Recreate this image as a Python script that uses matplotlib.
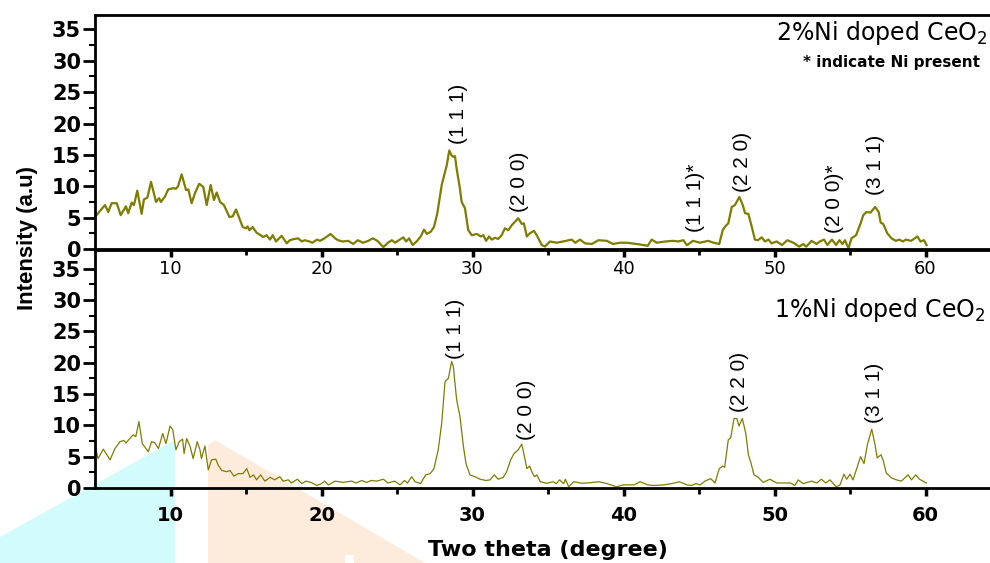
import matplotlib
matplotlib.use("Agg")
import matplotlib.pyplot as plt
from matplotlib.patches import Polygon, Rectangle
from matplotlib.ticker import FixedLocator

plt.rcParams['font.family'] = 'DejaVu Sans'
plt.rcParams['mathtext.fontset'] = 'dejavusans'

# ---- 2% Ni doped CeO2 (top panel) ----
top_theta = [5.1, 5.66, 5.88, 6.1, 6.44, 6.7, 7.05, 7.2, 7.43, 7.58,
             7.8, 8.09, 8.24, 8.47, 8.71, 9.04, 9.24, 9.37, 9.64, 9.85,
             10.19, 10.36, 10.5, 10.74, 11.03, 11.18, 11.4, 11.62, 11.9, 12.17,
             12.4, 12.66, 12.88, 13.06, 13.28, 13.54, 13.9, 14.12, 14.34, 14.56,
             14.78, 15.0, 15.11, 15.22, 15.44, 15.7, 15.97, 16.14, 16.36, 16.59,
             16.77, 16.99, 17.36, 17.7, 17.9, 18.2, 18.45, 18.7, 18.9, 19.2,
             19.4, 19.7, 19.9, 20.2, 20.6, 20.9, 21.1, 21.4, 21.77, 22.1,
             22.4, 22.75, 23.1, 23.4, 23.7, 24.1, 24.4, 24.66,
             24.87, 25.42, 25.6, 25.8, 26.04, 26.3, 26.57, 26.79, 26.97, 27.23,
             27.45, 27.67, 27.96, 28.1, 28.3, 28.46, 28.62, 28.73, 28.84, 28.95,
             29.17, 29.28, 29.5, 29.72, 29.95, 30.28, 30.54, 30.72, 30.9, 31.1,
             31.27, 31.5, 31.7, 31.93, 32.15, 32.37, 32.6, 32.8, 33.03, 33.26,
             33.4, 33.6, 33.8, 34.07, 34.3, 34.58, 34.8, 35.13, 35.57, 36.0,
             36.57, 36.8, 37.12, 37.45, 37.9, 38.34, 38.9, 39.3, 39.78, 40.2,
             40.87, 41.4, 41.6, 41.87, 42.2, 42.77, 43.3, 43.6, 43.97, 44.2,
             44.6, 45.07, 45.6, 45.97, 46.34, 46.57, 46.72, 46.94, 47.17, 47.38,
             47.67, 47.9, 48.05, 48.27, 48.5, 48.7, 48.9, 49.15, 49.37, 49.6,
             49.8, 50.14, 50.5, 50.85, 51.25, 51.64, 51.9, 52.1, 52.46, 52.78,
             53.0, 53.28, 53.5, 53.8, 54.08, 54.3, 54.5, 54.67, 54.9, 55.1,
             55.4, 55.66, 55.88, 56.1, 56.36, 56.66, 56.9, 57.03, 57.2, 57.47,
             57.75, 58.04, 58.26, 58.5, 58.7, 59.05, 59.46, 59.67, 59.9, 60.07]
top_counts = [5.4, 7.0, 5.9, 7.3, 7.3, 5.4, 6.8, 5.7, 7.4, 7.0,
              9.3, 5.6, 7.9, 8.2, 10.7, 7.5, 8.1, 7.5, 8.4, 9.5,
              9.7, 9.6, 10.0, 11.9, 9.4, 9.5, 7.3, 8.9, 10.4, 9.9,
              7.0, 10.2, 7.8, 9.0, 7.5, 7.0, 5.1, 5.2, 6.3, 4.9,
              3.5, 3.3, 3.6, 3.0, 3.5, 2.6, 2.2, 1.9, 2.2, 1.5,
              2.2, 1.2, 2.1, 0.9, 1.4, 1.6, 1.7, 1.2, 1.4, 1.2,
              1.0, 1.5, 1.3, 1.7, 2.4, 1.7, 1.4, 1.2, 1.3, 0.8,
              1.4, 1.0, 1.3, 1.7, 1.3, 0.3, 1.0, 1.4,
              1.0, 1.86, 1.2, 1.7, 0.64, 1.2, 2.0, 3.1, 2.4, 2.75,
              3.5, 5.7, 10.2, 11.5, 13.4, 15.7, 14.9, 14.7, 14.8, 12.8,
              9.6, 7.5, 6.5, 3.0, 2.2, 2.4, 2.0, 2.2, 1.3, 2.0,
              1.5, 1.8, 1.6, 2.2, 3.3, 3.0, 3.8, 4.3, 4.9, 4.0,
              4.1, 2.0, 2.5, 2.9, 2.0, 0.64, 0.4, 1.2, 1.0, 1.2,
              1.5, 1.0, 1.5, 0.9, 0.8, 1.4, 1.3, 0.8, 1.0, 1.0,
              0.8, 0.6, 0.5, 1.5, 1.0, 1.2, 1.3, 1.2, 1.4, 0.6,
              1.3, 1.0, 1.3, 1.0, 0.8, 3.0, 3.55, 4.1, 6.7, 7.0,
              8.3, 7.0, 5.7, 5.6, 3.5, 1.5, 1.4, 1.86, 1.2, 1.5,
              0.9, 1.2, 0.64, 1.4, 1.0, 0.37, 0.8, 0.37, 1.3, 0.8,
              1.2, 1.5, 0.64, 1.5, 0.64, 1.4, 0.8, 1.4, 0.1, 1.7,
              2.2, 3.8, 5.4, 5.9, 5.8, 6.7, 5.9, 4.2, 4.0, 2.5,
              1.7, 1.3, 1.5, 1.2, 1.5, 1.3, 2.0, 1.2, 1.4, 0.64]

# ---- 1% Ni doped CeO2 (bottom panel) ----
bot_theta = [5.07, 5.2, 5.55, 6.0, 6.32, 6.66, 6.9, 7.05, 7.3, 7.54,
             7.7, 7.91, 8.13, 8.53, 8.75, 8.97, 9.2, 9.48, 9.7, 9.97,
             10.15, 10.36, 10.58, 10.8, 10.9, 11.07, 11.3, 11.5, 11.77, 11.95,
             12.05, 12.28, 12.5, 12.72, 13.0, 13.15, 13.39, 13.72, 13.94, 14.2,
             14.5, 14.8, 15.05, 15.27, 15.5, 15.7, 15.97, 16.25, 16.6, 16.9,
             17.24, 17.46, 17.8, 18.0, 18.4, 18.7, 18.97, 19.3, 19.7, 20.0,
             20.2, 20.45, 20.9, 21.44, 22.0, 22.3, 22.66, 22.99, 23.3, 23.65,
             24.1, 24.4, 24.85, 25.2, 25.5, 25.7,
             25.97, 26.2, 26.56, 26.9, 27.2, 27.45, 27.73, 27.96, 28.18, 28.4,
             28.62, 28.73, 28.95, 29.17, 29.4, 29.57, 29.83, 30.17, 30.5, 30.9,
             31.16, 31.44, 31.7, 32.04, 32.26, 32.53, 32.75, 33.03, 33.26, 33.4,
             33.6, 33.78, 33.93, 34.1, 34.26, 34.49, 34.93, 35.33, 35.55, 35.77,
             36.04, 36.15, 36.37, 36.7, 37.26, 37.8, 38.36, 38.9, 39.53, 40.0,
             40.7, 41.1, 41.6, 42.0, 42.67, 43.2, 43.7,
             44.2, 44.5, 44.8, 45.07, 45.4, 45.77, 46.06, 46.34, 46.57, 46.7,
             46.94, 47.1, 47.32, 47.5, 47.65, 47.87, 48.1, 48.27, 48.42, 48.64,
             48.9, 49.25, 49.7, 50.14, 50.7, 51.07, 51.35, 51.57, 51.9, 52.46,
             52.8, 53.1, 53.4, 53.67, 54.08, 54.34, 54.6, 54.78, 55.0, 55.2,
             55.44, 55.7, 55.93, 56.15, 56.44, 56.66, 56.8, 57.05, 57.2, 57.4,
             57.75, 58.08, 58.4, 58.85, 59.07, 59.36, 59.6, 60.07]
bot_counts = [6.07, 4.7, 6.2, 4.5, 6.3, 7.4, 7.6, 7.2, 7.9, 8.5,
              8.2, 10.6, 7.1, 5.8, 7.4, 7.2, 6.3, 8.7, 7.1, 9.9,
              9.3, 6.1, 7.4, 7.8, 5.5, 7.9, 6.6, 4.7, 7.4, 6.1,
              4.7, 6.7, 2.9, 4.5, 4.6, 3.7, 2.8, 2.6, 2.8, 1.9,
              2.3, 2.3, 3.1, 1.7, 2.1, 1.3, 2.1, 1.1, 1.7, 1.3,
              1.8, 1.1, 1.3, 0.8, 1.4, 0.7, 1.1, 0.9, 0.4, 0.7,
              1.1, 0.5, 1.1, 0.9, 1.1, 0.8, 1.2, 0.9, 1.2, 1.1,
              1.4, 0.8, 1.1, 0.5, 1.2, 0.8,
              1.8, 1.0, 0.7, 2.1, 2.3, 3.1, 6.1, 10.3, 17.0, 17.5,
              20.2, 19.4, 14.1, 11.4, 6.6, 3.9, 2.1, 1.8, 1.4, 1.2,
              1.3, 2.1, 1.4, 1.7, 2.6, 4.5, 5.5, 6.1, 7.0, 5.5,
              3.1, 3.5, 2.6, 1.8, 2.1, 1.0, 0.75, 1.0, 0.7, 1.3,
              0.7, 1.4, 0.2, 1.0, 0.75, 0.85, 1.0, 0.7, 0.2, 0.5,
              0.5, 1.0, 0.5, 0.4, 0.5, 0.7, 1.0,
              0.5, 0.4, 0.7, 0.5, 1.1, 1.5, 0.8, 3.1, 3.5, 3.3,
              7.7, 8.0, 11.1, 11.1, 9.9, 11.1, 8.7, 5.3, 4.2, 2.1,
              1.75, 0.9, 1.4, 0.8, 0.8, 0.8, 0.4, 1.3, 0.7, 1.1,
              0.8, 1.4, 0.8, 1.3, 0.2, 0.5, 2.2, 1.4, 2.2, 1.3,
              3.1, 5.0, 3.9, 6.9, 9.4, 6.9, 4.8, 5.3, 4.4, 2.4,
              1.6, 1.3, 1.1, 2.1, 1.3, 2.1, 1.4, 0.8]

# peak labels: (text, theta, intensity at bottom of label)
top_peaks = [("(1 1 1)", 29.1, 16.7), ("(2 0 0)", 33.1, 5.9),
             ("(1 1 1)*", 44.8, 2.7), ("(2 2 0)", 47.85, 9.1),
             ("(2 0 0)*", 54.0, 2.5), ("(3 1 1)", 56.7, 8.6)]
bot_peaks = [("(1 1 1)", 28.9, 20.6), ("(2 0 0)", 33.6, 7.7),
             ("(2 2 0)", 47.65, 12.1), ("(3 1 1)", 56.65, 10.4)]

yticks = [0, 5, 10, 15, 20, 25, 30, 35]
xticks = [10, 20, 30, 40, 50, 60]
line_col = '#7f7d00'

fig = plt.figure(figsize=(9.9, 5.63), dpi=100)

def figpt(x, y):
    return (x / 990.0, 1 - y / 563.0)

# faint watermark shapes behind the plot
fig.patches.append(Polygon([figpt(0, 563), figpt(0, 537), figpt(175, 440), figpt(175, 563)],
                           closed=True, transform=fig.transFigure, facecolor='#d2fbfc',
                           edgecolor='none', zorder=-5))
fig.patches.append(Polygon([figpt(208, 563), figpt(208, 445), figpt(215, 440), figpt(425, 563)],
                           closed=True, transform=fig.transFigure, facecolor='#fdecdb',
                           edgecolor='none', zorder=-5))
fig.patches.append(Rectangle(figpt(345, 563), 9 / 990.0, 8 / 563.0, transform=fig.transFigure,
                             facecolor='white', edgecolor='none', zorder=-4))

ax1 = fig.add_axes([95 / 990, 1 - 249 / 563, (1001 - 95) / 990, 234 / 563])
ax2 = fig.add_axes([95 / 990, 1 - 488 / 563, (1001 - 95) / 990, 238 / 563])

ax1.plot(top_theta, top_counts, color=line_col, lw=1.6)
ax2.plot(bot_theta, bot_counts, color=line_col, lw=0.9)

for ax, ymax in ((ax1, 37.3), (ax2, 38.0)):
    ax.set_facecolor('none')
    ax.set_xlim(5, 65)
    ax.set_ylim(0, ymax)
    for s in ax.spines.values():
        s.set_linewidth(2.0)
    ax.set_yticks(yticks)
    ax.set_yticklabels([str(v) for v in yticks], fontweight='bold', fontsize=15)
    ax.yaxis.set_minor_locator(FixedLocator([2.5, 7.5, 12.5, 17.5, 22.5, 27.5, 32.5]))
    ax.xaxis.set_minor_locator(FixedLocator([15, 25, 35, 45, 55]))
    ax.tick_params(axis='y', which='major', direction='out', length=9, width=2, pad=1)
    ax.tick_params(axis='y', which='minor', direction='out', length=4.5, width=1.5)
    ax.tick_params(axis='x', which='major', direction='out', length=6, width=2.5)
    ax.tick_params(axis='x', which='minor', direction='out', length=4, width=2)
    ax.set_xticks(xticks)

ax1.set_xticklabels([str(v) for v in xticks], fontsize=13)
ax1.tick_params(axis='x', pad=2)
ax2.set_xticklabels([str(v) for v in xticks], fontsize=14, fontweight='bold')
ax2.tick_params(axis='x', which='major', pad=7)

for txt, xv, yv in top_peaks:
    ax1.text(xv, yv, txt, rotation=90, ha='center', va='bottom',
             fontsize=15, family='Liberation Sans')
for txt, xv, yv in bot_peaks:
    ax2.text(xv, yv, txt, rotation=90, ha='center', va='bottom',
             fontsize=15, family='Liberation Sans')

ax1.text(64.1, 33.3, '2%Ni doped CeO$_2$', ha='right', va='baseline', fontsize=17)
ax1.text(63.6, 29.8, '* indicate Ni present', ha='right', va='center',
         fontsize=11, fontweight='bold')
ax2.text(63.94, 27.3, '1%Ni doped CeO$_2$', ha='right', va='baseline', fontsize=17)

fig.text(28 / 990, 1 - 238 / 563, 'Intensity (a.u)', rotation=90, ha='center', va='center',
         fontsize=16, fontweight='bold', family='Liberation Sans')
fig.text(548 / 990, 1 - 550 / 563, 'Two theta (degree)', ha='center', va='center',
         fontsize=16, fontweight='bold')

fig.savefig('out.png', dpi=100)
